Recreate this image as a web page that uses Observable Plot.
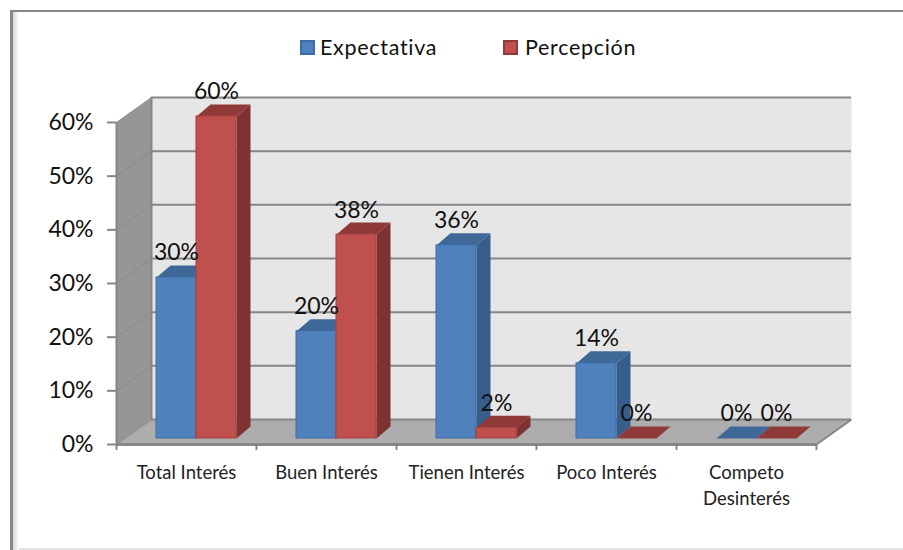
<!DOCTYPE html>
<html>
<head>
<meta charset="utf-8">
<script src="https://cdn.jsdelivr.net/npm/d3@7"></script>
<script src="https://cdn.jsdelivr.net/npm/@observablehq/plot@0.6"></script>
<style>
html,body{margin:0;padding:0;background:#fff;}
#page{position:relative;width:903px;height:550px;overflow:hidden;font-family:Lato,"Open Sans",sans-serif;color:#111;}
#frame{position:absolute;left:10px;top:10px;width:900px;height:540px;box-sizing:border-box;border-top:2px solid #888;border-left:3px solid #888;pointer-events:none;}
#shade{position:absolute;left:13px;top:12px;width:6px;height:538px;background:linear-gradient(to right,#d8d8d8,#fff);}
#floorline{position:absolute;left:19px;top:548px;width:884px;height:2px;background:#e4e4e4;}
#legend{height:66px;position:relative;font-size:21.5px;}
.key{position:absolute;top:34px;display:flex;align-items:center;line-height:26px;letter-spacing:.7px;}
.sw{width:11px;height:11px;border:2px solid;margin-right:5px;display:inline-block;}
svg{display:block;position:relative;}
</style>
</head>
<body>
<div id="page">
<div id="shade"></div><div id="frame"></div><div id="floorline"></div>
<div id="legend"></div>
<div id="chart"></div>
</div>
<script>
const categories = ["Total Interés", "Buen Interés", "Tienen Interés", "Poco Interés", "Competo\nDesinterés"];
const expectativa = [0.30, 0.20, 0.36, 0.14, 0];
const percepcion = [0.60, 0.38, 0.02, 0, 0];
const yTicks = [0, 0.1, 0.2, 0.3, 0.4, 0.5, 0.6];
const seriesNames = ["Expectativa", "Percepción"];

const blue = {front: "#4f81bd", side: "#375d8a", top: "#3e6898", edge: "#3d6ca6"};
const red = {front: "#c0504d", side: "#7e3231", top: "#8f3a39", edge: "#a5423f"};

// depth of the 3D box, in data units (category steps, share)
const wallX = 0.25, wallY = 0.0466;
const barX = 0.1, barY = 0.0224;
const baseX = 0.2857, baseY = 0.0112;
const barW = 0.2857;

const poly = (pts, fill, extra = {}) => Plot.line(pts, {x: d => d[0], y: d => d[1], fill, stroke: "none", ...extra});

const walls = [
  poly([[wallX, wallY], [5 + wallX, wallY], [5 + wallX, 0.6 + wallY], [wallX, 0.6 + wallY]], "#e6e6e6"),
  poly([[0, 0], [wallX, wallY], [wallX, 0.6 + wallY], [0, 0.6]], "#969696"),
  poly([[0, 0], [5, 0], [5 + wallX, wallY], [wallX, wallY]], "#adadad")
];

const grid = [
  Plot.ruleY(yTicks.map(v => v + wallY), {x1: wallX, x2: 5 + wallX, stroke: "#868686", strokeWidth: 2}),
  Plot.ruleX([wallX], {y1: wallY, y2: 0.6 + wallY, stroke: "#868686", strokeWidth: 2}),
  Plot.ruleY([0], {x1: 0, x2: 5, stroke: "#868686", strokeWidth: 3}),
  Plot.link([[5, 0]], {x1: d => d[0], y1: d => d[1], x2: d => d[0] + wallX, y2: d => d[1] + wallY, stroke: "#868686", strokeWidth: 2}),
  Plot.ruleX([0], {y1: 0, y2: 0.6, stroke: "#868686", strokeWidth: 2}),
  Plot.link(yTicks, {x1: 0, y1: d => d, x2: wallX, y2: d => d + wallY, stroke: "#8a8a8a", strokeWidth: 1}),
  Plot.ruleX([0, 1, 2, 3, 4, 5], {y1: -0.011, y2: 0, stroke: "#868686", strokeWidth: 2})
];

function bar(i, s, value, c) {
  const x0 = i + baseX + s * barW, x1 = x0 + barW;
  const y0 = baseY, y1 = baseY + value;
  return [
    poly([[x1, y0], [x1 + barX, y0 + barY], [x1 + barX, y1 + barY], [x1, y1]], c.side),
    poly([[x0, y1], [x1, y1], [x1 + barX, y1 + barY], [x0 + barX, y1 + barY]], c.top),
    value > 0 ? Plot.rect([{value}], {x1: x0, x2: x1, y1: y0, y2: y1, fill: c.front, stroke: c.edge, strokeWidth: 1}) : null
  ];
}

const bars = categories.flatMap((_, i) => [
  ...bar(i, 0, expectativa[i], blue),
  ...bar(i, 1, percepcion[i], red)
]);

const labels = categories.flatMap((_, i) => [[i, 0, expectativa[i]], [i, 1, percepcion[i]]]);

const chart = Plot.plot({
  width: 903,
  height: 484,
  marginLeft: 116,
  marginRight: 87,
  marginTop: 56,
  marginBottom: 106,
  style: {background: "transparent", fontFamily: "Lato, 'Open Sans', sans-serif", color: "#111", overflow: "visible"},
  x: {type: "linear", domain: [0, 5], axis: null},
  y: {type: "linear", domain: [0, 0.6], axis: null},
  marks: [
    ...walls,
    ...grid,
    ...bars,
    Plot.axisY(yTicks, {anchor: "left", tickSize: 9, tickPadding: 14, tickFormat: d3.format(".0%"), fontSize: 23, stroke: "#868686", strokeWidth: 2, label: null, fill: "#111"}),
    Plot.axisX(categories.map((_, i) => i + 0.5), {anchor: "bottom", tickSize: 0, tickPadding: 16, tickFormat: d => categories[d - 0.5], fontSize: 18.5, lineHeight: 1.42, lineAnchor: "top", label: null, fill: "#222", textOverflow: null}),
    Plot.text(labels, {
      x: d => d[0] + baseX + d[1] * barW + barW / 2,
      y: d => baseY + d[2],
      text: d => d3.format(".0%")(d[2]),
      dy: -17,
      lineAnchor: "bottom",
      fontSize: 23,
      fill: "#111"
    })
  ]
});
document.getElementById("chart").append(chart);

const legend = document.getElementById("legend");
[[seriesNames[0], blue, "#3d6ca6", 300], [seriesNames[1], red, "#8f3a39", 503]].forEach(([name, c, b, left]) => {
  const k = document.createElement("div");
  k.className = "key";
  k.style.left = left + "px";
  const s = document.createElement("span");
  s.className = "sw";
  s.style.background = c.front;
  s.style.borderColor = b;
  s.style.marginRight = left === 300 ? "5px" : "7px";
  k.append(s, document.createTextNode(name));
  legend.append(k);
});
</script>
</body>
</html>
